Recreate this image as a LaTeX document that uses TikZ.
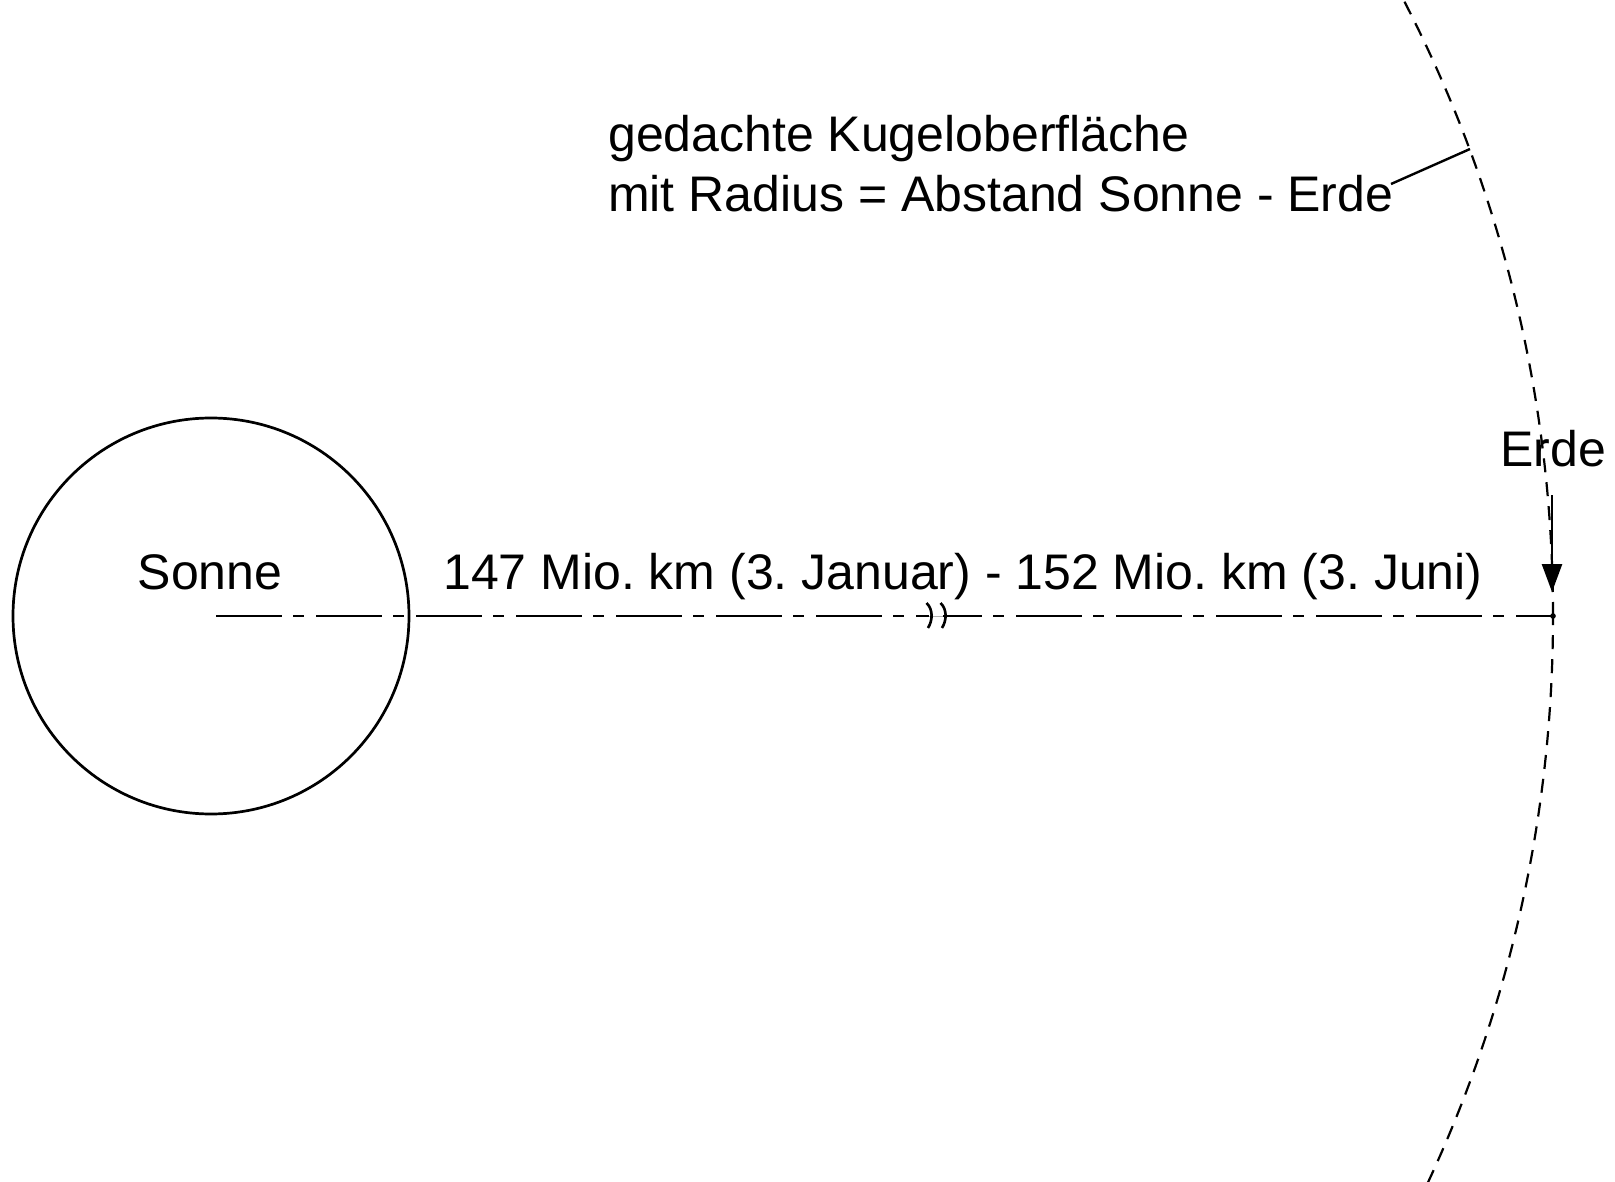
\documentclass[tikz,border=0pt]{standalone}
\usepackage{fontspec}
\setmainfont{Liberation Sans}
\usetikzlibrary{arrows.meta}
\frenchspacing
\begin{document}
\begin{tikzpicture}[x=1pt,y=-1pt,
  lbl/.style={inner sep=0pt,font=\fontsize{50}{60}\selectfont\frenchspacing},
  axisline/.style={line width=2.7pt,dash pattern=on 66pt off 11pt on 11pt off 12pt},
  orbit/.style={line width=2.2pt,dash pattern=on 14pt off 10pt},
  breakmark/.style={line width=2.6pt}]
\useasboundingbox (0,0) rectangle (1615,1182);
% sun
\coordinate (sc) at (211,616);
\draw[line width=2.7pt] (sc) circle[radius=198pt];
\node[lbl,anchor=base] (sonne) at (210,589) {Sonne};
% orbit sphere
\begin{scope}
\clip (0,0) rectangle (1615,1182);
\draw[orbit] (sc) circle[radius=1342pt];
\end{scope}
% axis
\coordinate (a0) at (216,616);
\coordinate (b1) at (929,616);
\coordinate (b2) at (943,616);
\coordinate (earth) at (1553,616);
\draw[axisline] (a0) -- (b1);
\draw[axisline,dash phase=27pt] (b2) -- (earth);
\draw[gray!60,line width=0.6pt] (b1) -- (b2);
\draw[breakmark] (926.5,603) .. controls (933,609) and (933,620) .. (928,628);
\draw[breakmark] (940.5,603) .. controls (947,609) and (947,620) .. (942,628);
\fill (earth) circle[radius=2.8pt];
\node[lbl,anchor=base] (dist) at (963,589) {147 Mio. km (3. Januar) - 152 Mio. km (3. Juni)};
% earth label and arrow
\node[lbl,anchor=base] (erde) at (1553,466) {Erde};
\coordinate (arrtop) at (1552,495);
\coordinate (arrtip) at (1552,592);
\draw[line width=2.6pt,-{Triangle[length=28pt,width=20pt]}] (arrtop) -- (arrtip);
% title
\node[lbl,anchor=base west] (t1) at (608,152) {gedachte Kugeloberfläche};
\node[lbl,anchor=base west] (t2) at (608,212) {mit Radius = Abstand Sonne - Erde};
\coordinate (lp) at (1470,149);
\draw[line width=2.4pt] (1391,184) -- (lp);
\end{tikzpicture}
\end{document}
